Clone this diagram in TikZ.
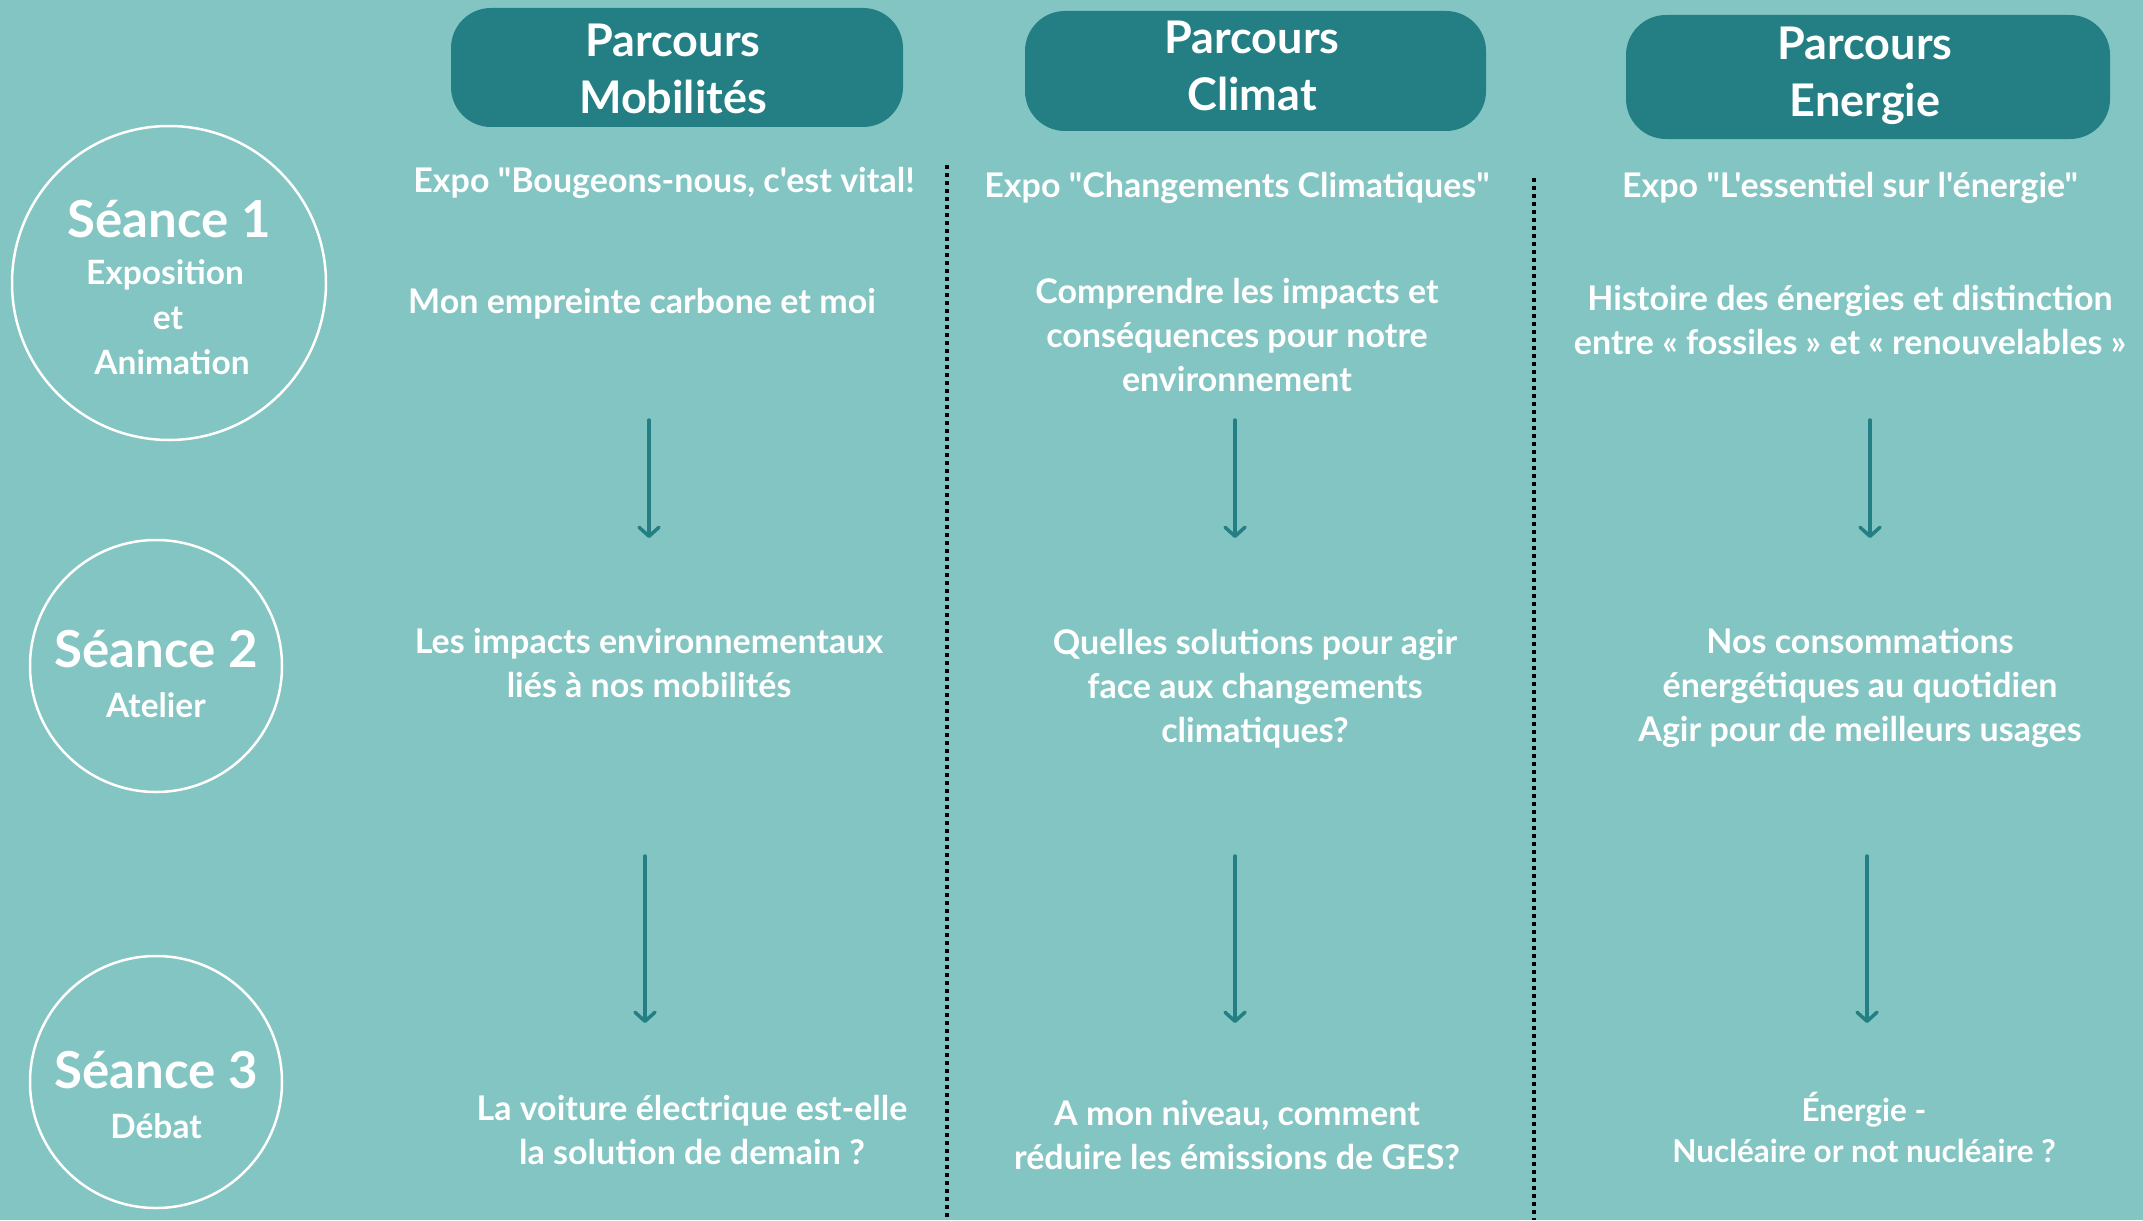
\documentclass[tikz,border=0pt]{standalone}
\usepackage{fontspec}
\setmainfont{Lato}[Ligatures=TeXOff]
\usetikzlibrary{arrows.meta}
\definecolor{bgc}{HTML}{82C5C2}
\definecolor{tealc}{HTML}{237F84}
\begin{document}
\begin{tikzpicture}[x=1pt,y=-1pt,
  hdr/.style={fill=tealc, rounded corners=40pt, inner sep=0pt},
  hdrt/.style={text=white, inner sep=0pt, font=\bfseries\fontsize{45}{57}\selectfont, align=center},
  ring/.style={circle, draw=white, line width=2.5pt, inner sep=0pt},
  big/.style={text=white, inner sep=0pt, font=\bfseries\fontsize{51}{58}\selectfont},
  sub/.style={text=white, inner sep=0pt, font=\bfseries\fontsize{33.5}{44}\selectfont},
  body/.style={text=white, inner sep=0pt, align=center, font=\bfseries\fontsize{34}{44}\selectfont},
  bodys/.style={text=white, inner sep=0pt, align=center, font=\bfseries\fontsize{31.5}{41}\selectfont},
  flow/.style={draw=tealc, line width=3.5pt, line cap=round,
    -{Straight Barb[length=9pt,width=20pt,line cap=round,line join=round]}},
  sep/.style={draw=black, line width=4pt, dash pattern=on 4pt off 4pt}
]
\fill[bgc] (0,0) rectangle (2143,1220);
\useasboundingbox (0,0) rectangle (2143,1220);

% headers
\node[hdr, minimum width=452pt, minimum height=119pt] (h1) at (677,67.5) {};
\node[hdr, minimum width=461pt, minimum height=120pt] (h2) at (1255.5,71) {};
\node[hdr, minimum width=484pt, minimum height=124pt] (h3) at (1868,77) {};
\node[hdrt] (h1t) at (673,69) {Parcours\\Mobilités};
\node[hdrt] (h2t) at (1252,66) {Parcours\\Climat};
\node[hdrt] (h3t) at (1865,76) {Parcours\\Energie};

% circles
\node[ring, minimum size=314pt] (c1) at (169,283) {};
\node[ring, minimum size=252pt] (c2) at (156,666) {};
\node[ring, minimum size=252pt] (c3) at (156,1082) {};

\node[big] (c1a) at (169,219) {Séance 1};
\node[sub] (c1b) at (165,275) {Exposition};
\node[sub] (c1c) at (168,318) {et};
\node[sub] (c1d) at (172,362) {Animation};

\node[big] (c2a) at (156,649) {Séance 2};
\node[sub] (c2b) at (156,705) {Atelier};

\node[big] (c3a) at (156,1070) {Séance 3};
\node[sub] (c3b) at (156,1126) {Débat};

% separators
\coordinate (d1t) at (947,165);
\coordinate (d1b) at (947,1220);
\coordinate (d2t) at (1534,178);
\coordinate (d2b) at (1534,1220);
\draw[sep] (d1t) -- (d1b);
\draw[sep] (d2t) -- (d2b);

% column 1
\node[body] (t11) at (664,183) {Expo "Bougeons-nous, c'est vital!};
\node[body] (t12) at (642,304) {Mon empreinte carbone et moi};
\node[body] (t13) at (649,663) {Les impacts environnementaux\\liés à nos mobilités};
\node[body] (t14) at (692,1130) {La voiture électrique est-elle\\la solution de demain~?};

% column 2
\node[body] (t21) at (1237,188) {Expo "Changements Climatiques"};
\node[body] (t22) at (1237,335) {Comprendre les impacts et\\conséquences pour notre\\environnement};
\node[body] (t23) at (1255,689) {Quelles solutions pour agir\\face aux changements\\climatiques?};
\node[body] (t24) at (1237,1135) {A mon niveau, comment\\réduire les émissions de GES?};

% column 3
\node[body] (t31) at (1850,188) {Expo "L'essentiel sur l'énergie"};
\node[body] (t32) at (1850,320) {Histoire des énergies et distinction\\entre «~fossiles~» et «~renouvelables~»};
\node[body] (t33) at (1860,688) {Nos consommations\\énergétiques au quotidien\\Agir pour de meilleurs usages};
\node[bodys] (t34) at (1864,1127) {Énergie -\\Nucléaire or not nucléaire~?};

% arrows
\coordinate (a11s) at (649,420); \coordinate (a11e) at (649,538);
\coordinate (a12s) at (645,856); \coordinate (a12e) at (645,1023);
\coordinate (a21s) at (1235,420); \coordinate (a21e) at (1235,538);
\coordinate (a22s) at (1235,856); \coordinate (a22e) at (1235,1023);
\coordinate (a31s) at (1870,420); \coordinate (a31e) at (1870,538);
\coordinate (a32s) at (1867,856); \coordinate (a32e) at (1867,1023);
\draw[flow] (a11s) -- (a11e);
\draw[flow] (a12s) -- (a12e);
\draw[flow] (a21s) -- (a21e);
\draw[flow] (a22s) -- (a22e);
\draw[flow] (a31s) -- (a31e);
\draw[flow] (a32s) -- (a32e);
\end{tikzpicture}
\end{document}
